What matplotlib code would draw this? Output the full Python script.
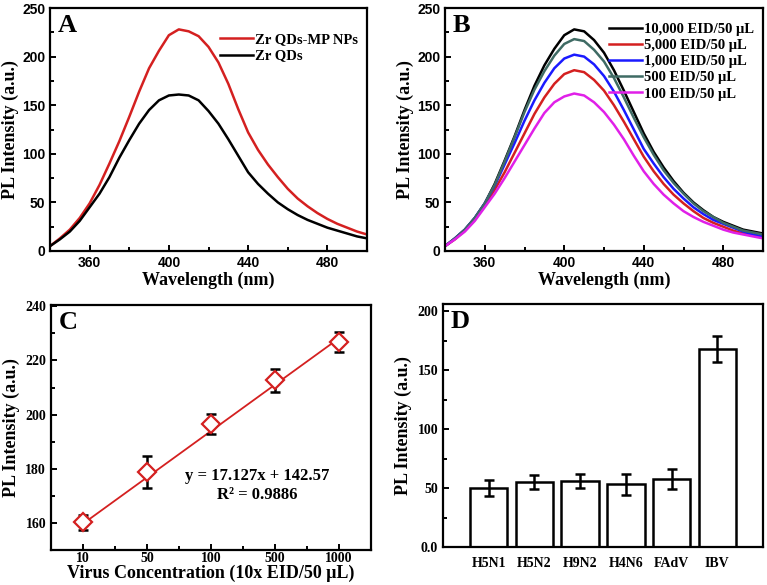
import matplotlib
matplotlib.use("Agg")
import matplotlib.pyplot as plt
from matplotlib.ticker import MultipleLocator

# ---- data ----
wl = [340, 345, 350, 355, 360, 365, 370, 375, 380, 385, 390, 395, 400, 405, 410, 415, 420,
      425, 430, 435, 440, 445, 450, 455, 460, 465, 470, 475, 480, 485, 490, 495, 500]

# panel A
zr_mp = [5, 13, 22, 34, 49, 68, 90, 113, 138, 164, 188, 206, 222, 228, 226, 221, 210,
         194, 172, 146, 122, 104, 89, 76, 64, 54, 46, 39, 33, 28, 24, 20, 17]
zr_qd = [5, 12, 20, 31, 45, 59, 76, 96, 114, 131, 145, 155, 160, 161, 160, 155, 144,
         131, 115, 98, 81, 69, 59, 50, 43, 37, 32, 28, 24, 21, 18, 15, 13]

# panel B
b_10000 = [5, 13, 22, 34, 49, 69, 93, 118, 145, 170, 191, 208, 222, 228, 226, 217, 204,
           186, 165, 143, 121, 102, 86, 72, 60, 50, 42, 35, 30, 26, 22, 20, 18]
b_5000 = [5, 12, 21, 32, 47, 63, 81, 101, 121, 141, 158, 172, 182, 186, 184, 176, 165,
          150, 133, 115, 97, 82, 69, 58, 49, 41, 34, 29, 25, 21, 18, 16, 14]
b_1000 = [5, 13, 22, 34, 49, 67, 89, 111, 134, 155, 173, 188, 198, 202, 200, 192, 180,
          164, 145, 125, 105, 90, 76, 64, 54, 45, 38, 32, 28, 24, 20, 17, 15]
b_500 = [5, 13, 22, 34, 49, 68, 92, 117, 143, 166, 185, 201, 213, 218, 216, 207, 195,
         178, 158, 137, 117, 99, 83, 70, 59, 49, 41, 35, 29, 25, 21, 19, 17]
b_100 = [5, 12, 20, 31, 45, 59, 75, 92, 109, 126, 142, 153, 159, 162, 160, 153, 143,
         130, 115, 98, 82, 69, 58, 49, 41, 35, 30, 26, 22, 19, 17, 15, 13]
b_labels = ["10,000 EID/50 μL", "5,000 EID/50 μL", "1,000 EID/50 μL",
            "500 EID/50 μL", "100 EID/50 μL"]
b_colors = ["black", "#d42020", "#1a1aff", "#3f6b64", "#e020e8"]

# panel C
conc_labels = ["10", "50", "100", "500", "1000"]
conc_pos = [1, 2, 3, 4, 5]
c_int = [160.3, 178.8, 196.5, 212.7, 227.0]
c_err = [2.8, 5.8, 3.8, 4.3, 3.7]
slope, intercept = 17.127, 142.57

# panel D
viruses = ["H5N1", "H5N2", "H9N2", "H4N6", "FAdV", "IBV"]
d_int = [50, 55, 56, 53, 58, 168]
d_err = [6.5, 6, 6, 8.5, 8.5, 11]

serif = "Liberation Serif"
sans = "Liberation Sans"
plt.rcParams["font.family"] = serif
plt.rcParams["font.weight"] = "bold"
plt.rcParams["axes.linewidth"] = 1.6

fig = plt.figure(figsize=(7.67, 5.85), dpi=100)
W, H = 767, 585


def box(l, t, r, b):
    return [l / W, 1 - b / H, (r - l) / W, (b - t) / H]


def style(ax, tickfont):
    ax.tick_params(which="both", direction="in", top=False, right=False, width=1.4)
    ax.tick_params(which="major", length=4)
    ax.tick_params(which="minor", length=3)
    for lab in ax.get_xticklabels() + ax.get_yticklabels():
        lab.set_fontfamily(tickfont)
        lab.set_fontweight("bold")
        lab.set_fontsize(10)


def spectrum_axes(ax, letter):
    ax.set_xlim(340, 500)
    ax.set_ylim(0, 250)
    ax.set_xticks([360, 400, 440, 480])
    ax.xaxis.set_minor_locator(MultipleLocator(20))
    ax.yaxis.set_major_locator(MultipleLocator(50))
    ax.yaxis.set_minor_locator(MultipleLocator(25))
    ax.set_xlabel("Wavelength (nm)", fontsize=13, fontweight="bold", labelpad=1)
    ax.set_ylabel("PL Intensity (a.u.)", fontsize=13, fontweight="bold", labelpad=2)
    ax.text(0.025, 0.975, letter, transform=ax.transAxes, fontsize=19,
            fontweight="bold", va="top", ha="left")
    style(ax, sans)


leg_font = {"family": serif, "weight": "bold", "size": 10.5}

# A
axA = fig.add_axes(box(50, 8, 367, 251))
axA.plot(wl, zr_mp, color="#d42020", lw=1.8, label="Zr QDs-MP NPs")
axA.plot(wl, zr_qd, color="black", lw=1.8, label="Zr QDs")
spectrum_axes(axA, "A")
axA.legend(loc="upper right", bbox_to_anchor=(1.0, 0.935), frameon=False, prop=leg_font,
           handlelength=2.3, handletextpad=0.15, labelspacing=0.25, borderpad=0.1)

# B
axB = fig.add_axes(box(445, 8, 763, 251))
for ys, lab, col in zip([b_10000, b_5000, b_1000, b_500, b_100], b_labels, b_colors):
    axB.plot(wl, ys, color=col, lw=1.8, label=lab)
spectrum_axes(axB, "B")
axB.legend(loc="upper right", bbox_to_anchor=(1.0, 0.975), frameon=False, prop=leg_font,
           handlelength=2.3, handletextpad=0.15, labelspacing=0.2, borderpad=0.1)

# C
axC = fig.add_axes(box(51, 305, 371, 550))
fit_y = [slope * p + intercept for p in (conc_pos[0], conc_pos[-1])]
axC.plot([conc_pos[0], conc_pos[-1]], fit_y, color="#d42020", lw=1.3, zorder=1)
axC.errorbar(conc_pos, c_int, yerr=c_err, fmt="none", ecolor="black",
             elinewidth=1.8, capsize=3.5, capthick=1.8, zorder=2)
axC.plot(conc_pos, c_int, "D", ms=9, mfc="white", mec="#d42020", mew=1.6, zorder=3)
axC.set_xlim(0.5, 5.5)
axC.set_ylim(150, 240.5)
axC.set_xticks(conc_pos)
axC.set_xticklabels(conc_labels)
axC.xaxis.set_minor_locator(MultipleLocator(0.5))
axC.yaxis.set_major_locator(MultipleLocator(20))
axC.yaxis.set_minor_locator(MultipleLocator(10))
axC.set_xlabel("Virus Concentration (10x EID/50 μL)", fontsize=13, fontweight="bold", labelpad=0)
axC.set_ylabel("PL Intensity (a.u.)", fontsize=13, fontweight="bold", labelpad=4)
axC.text(0.025, 0.975, "C", transform=axC.transAxes, fontsize=19,
         fontweight="bold", va="top", ha="left")
axC.text(0.645, 0.262, "y = 17.127x + 142.57\nR² = 0.9886", transform=axC.transAxes,
         fontsize=12, fontweight="bold", ha="center", va="center", linespacing=1.25)
style(axC, serif)
axC.tick_params(axis="x", which="major", pad=1.5)

# D
axD = fig.add_axes(box(443, 304, 763, 547))
pos = range(1, len(viruses) + 1)
axD.bar(pos, d_int, width=0.82, color="white", edgecolor="black", linewidth=1.8)
axD.errorbar(pos, d_int, yerr=d_err, fmt="none", ecolor="black",
             elinewidth=1.8, capsize=3.5, capthick=1.8)
axD.set_xlim(0, 7)
axD.set_ylim(0, 206)
axD.set_xticks(list(pos))
axD.set_xticklabels(viruses)
axD.set_yticks([0, 50, 100, 150, 200])
axD.set_yticklabels(["0.0", "50", "100", "150", "200"])
axD.yaxis.set_minor_locator(MultipleLocator(25))
axD.set_ylabel("PL Intensity (a.u.)", fontsize=13, fontweight="bold", labelpad=4)
axD.text(0.025, 0.975, "D", transform=axD.transAxes, fontsize=19,
         fontweight="bold", va="top", ha="left")
style(axD, serif)
axD.tick_params(axis="x", which="both", length=0, pad=7)

fig.savefig("out.png", dpi=100)
